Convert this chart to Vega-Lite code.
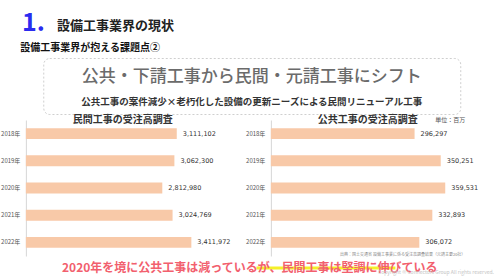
{
  "$schema": "https://vega.github.io/schema/vega-lite/v6.json",
  "padding": 0,
  "background": "white",
  "spacing": 0,
  "center": true,
  "config": {
    "view": {"stroke": null},
    "font": "Noto Sans CJK JP",
    "title": {"font": "Noto Sans CJK JP"},
    "axis": {"labelFont": "Noto Sans CJK JP", "titleFont": "Noto Sans CJK JP"}
  },
  "datasets": {
    "private": [
      {"year": "2018年", "value": 3111102},
      {"year": "2019年", "value": 3062300},
      {"year": "2020年", "value": 2812980},
      {"year": "2021年", "value": 3024769},
      {"year": "2022年", "value": 3411972}
    ],
    "public": [
      {"year": "2018年", "value": 296297},
      {"year": "2019年", "value": 350251},
      {"year": "2020年", "value": 359531},
      {"year": "2021年", "value": 332893},
      {"year": "2022年", "value": 306072}
    ]
  },
  "vconcat": [
    {
      "width": 500,
      "height": 42,
      "data": {"values": [
        {"part": "番号", "text": "1."},
        {"part": "見出し", "text": "設備工事業界の現状"}
      ]},
      "mark": {"type": "text", "align": "left", "baseline": "alphabetic", "fontWeight": "bold"},
      "encoding": {
        "x": {"field": "part", "type": "nominal", "sort": null, "scale": {"type": "point", "domain": ["番号", "見出し"], "range": [20, 55], "padding": 0}, "axis": null},
        "y": {"field": "part", "type": "nominal", "sort": null, "scale": {"type": "point", "domain": ["番号", "見出し"], "range": [31, 30], "padding": 0}, "axis": null},
        "text": {"field": "text"},
        "size": {"field": "part", "type": "nominal", "scale": {"domain": ["番号", "見出し"], "range": [25, 13]}, "legend": null},
        "color": {"field": "part", "type": "nominal", "scale": {"domain": ["番号", "見出し"], "range": ["#2b2bef", "#222222"]}, "legend": null}
      }
    },
    {
      "width": 417,
      "height": 56,
      "title": {"text": "設備工事業界が抱える課題点②", "anchor": "start", "dx": -23, "fontSize": 10, "fontWeight": "bold", "color": "#111111", "offset": 5},
      "view": {"stroke": "#cfcfcf", "strokeDash": [2, 2], "cornerRadius": 6, "fill": "white"},
      "data": {"values": [
        {"kind": "主題", "text": "公共・下請工事から民間・元請工事にシフト"},
        {"kind": "副題", "text": "公共工事の案件減少×老朽化した設備の更新ニーズによる民間リニューアル工事"}
      ]},
      "encoding": {
        "y": {"field": "kind", "type": "nominal", "sort": null, "scale": {"type": "point", "domain": ["主題", "副題"], "range": [19, 44], "padding": 0}, "axis": null},
        "text": {"field": "text"}
      },
      "layer": [
        {"transform": [{"filter": "datum.kind === '主題'"}], "mark": {"type": "text", "fontSize": 17, "color": "#6b6b6b", "fontWeight": 500}},
        {"transform": [{"filter": "datum.kind === '副題'"}], "mark": {"type": "text", "fontSize": 9.5, "color": "#333333", "fontWeight": "bold"}}
      ]
    },
    {
      "spacing": 14,
      "hconcat": [
        {
          "width": 194,
          "height": 136,
          "title": {"text": "民間工事の受注高調査", "fontSize": 10, "fontWeight": "bold", "color": "#333333", "offset": -5},
          "data": {"name": "private"},
          "encoding": {
            "y": {"field": "year", "type": "nominal", "sort": null, "scale": {"paddingInner": 0.6, "paddingOuter": 0.3}, "axis": {"title": null, "ticks": false, "labelFontSize": 6, "labelColor": "#555555", "labelPadding": 6, "domainColor": "#d6d6d6", "grid": false}},
            "x": {"field": "value", "type": "quantitative", "scale": {"domain": [0, 4000000]}, "axis": null}
          },
          "layer": [
            {"mark": {"type": "bar", "color": "#f8c9a8"}},
            {"mark": {"type": "text", "align": "left", "dx": 6, "fontSize": 6.5, "color": "#333333", "font": "DejaVu Sans"}, "encoding": {"text": {"field": "value", "type": "quantitative", "format": ","}}}
          ]
        },
        {
          "width": 194,
          "height": 136,
          "title": {"text": "公共工事の受注高調査", "fontSize": 10, "fontWeight": "bold", "color": "#333333", "offset": -9},
          "data": {"name": "public"},
          "encoding": {
            "y": {"field": "year", "type": "nominal", "sort": null, "scale": {"paddingInner": 0.6, "paddingOuter": 0.3}, "axis": {"title": null, "ticks": false, "labelFontSize": 6, "labelColor": "#555555", "labelPadding": 6, "domainColor": "#d6d6d6", "grid": false}}
          },
          "layer": [
            {"mark": {"type": "bar", "color": "#f8c9a8"},
             "encoding": {"x": {"field": "value", "type": "quantitative", "scale": {"domain": [0, 400000]}, "axis": {"orient": "top", "title": "単位：百万", "labels": false, "ticks": false, "domain": false, "grid": false, "titleAnchor": "end", "titleFontSize": 6, "titleFontWeight": "normal", "titleColor": "#555555", "titlePadding": -2}}}},
            {"mark": {"type": "text", "align": "left", "dx": 6, "fontSize": 6.5, "color": "#333333", "font": "DejaVu Sans"},
             "encoding": {"x": {"field": "value", "type": "quantitative", "scale": {"domain": [0, 400000]}, "axis": {"orient": "bottom", "title": "出典：国土交通省 設備工事業に係る受注高調査結果（元請主要20社）", "labels": false, "ticks": false, "domain": false, "grid": false, "titleAnchor": "end", "titleFontSize": 4, "titleFontWeight": "normal", "titleColor": "#888888", "titlePadding": -4}},
                          "text": {"field": "value", "type": "quantitative", "format": ","}}}
          ],
          "resolve": {"axis": {"x": "independent"}}
        }
      ]
    },
    {
      "width": 500,
      "height": 24,
      "title": {"text": "Copyright © Connectors Group All rights reserved.", "orient": "bottom", "anchor": "end", "fontSize": 5, "fontWeight": "normal", "color": "#c4c4c4", "offset": -10, "dx": -8},
      "data": {"values": [{"text": "2020年を境に公共工事は減っているが、民間工事は堅調に伸びている"}]},
      "layer": [
        {"mark": {"type": "rule", "color": "#f5f02a", "strokeWidth": 3, "dy": 8},
         "encoding": {
           "x": {"datum": 18.2, "type": "quantitative", "scale": {"domain": [0, 31.2], "range": [60, 434]}, "axis": null},
           "x2": {"datum": 31.2}
         }},
        {"mark": {"type": "text", "align": "left", "baseline": "middle", "fontSize": 12, "fontWeight": "bold", "color": "#f2606e"},
         "encoding": {
           "x": {"datum": 0, "type": "quantitative"},
           "text": {"field": "text"}
         }}
      ]
    }
  ]
}
